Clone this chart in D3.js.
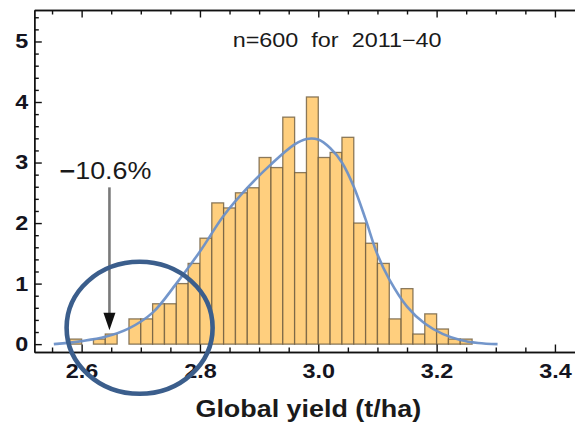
<!DOCTYPE html>
<html lang="en">
<head>
    <meta charset="UTF-8">
    <title>Global yield histogram</title>
    <script src="https://cdnjs.cloudflare.com/ajax/libs/d3/7.8.5/d3.min.js"></script>
    <style>
        body {
            margin: 0;
            background-color: #ffffff;
            font-family: "Liberation Sans", Arial, sans-serif;
        }
        svg { display: block; }
    </style>
</head>
<body>
    <div id="plot"></div>

    <script>
        // Sample size and bin width (from the title / bar widths)
        const n = 600;
        const binWidth = 0.02;

        // Histogram bins: left edge of each bin and counts
        const binStart = [2.58, 2.60, 2.62, 2.64, 2.66, 2.68, 2.70, 2.72, 2.74, 2.76,
                          2.78, 2.80, 2.82, 2.84, 2.86, 2.88, 2.90, 2.92, 2.94, 2.96,
                          2.98, 3.00, 3.02, 3.04, 3.06, 3.08, 3.10, 3.12, 3.14, 3.16,
                          3.18, 3.20, 3.22, 3.24];
        const binCount = [1, 0, 1, 2, 0, 5, 5, 8, 8, 12,
                          16, 21, 28, 27, 30, 31, 37, 35, 45, 34,
                          49, 37, 38, 41, 24, 20, 16, 5, 11, 2,
                          6, 3, 1, 1];

        // Smoothed density curve
        const curveX = [2.553, 2.60, 2.64, 2.68, 2.72, 2.76, 2.80, 2.84, 2.88, 2.92,
                        2.96, 2.98, 3.00, 3.02, 3.04, 3.06, 3.08, 3.10, 3.12, 3.15,
                        3.18, 3.21, 3.24, 3.27, 3.303];
        const curveY = [0.0, 0.05, 0.12, 0.26, 0.52, 1.0, 1.53, 2.12, 2.58, 2.97,
                        3.30, 3.39, 3.38, 3.24, 3.0, 2.6, 2.06, 1.48, 1.07, 0.62,
                        0.34, 0.17, 0.07, 0.02, 0.0];

        // Axis ticks
        const xMajor = [2.6, 2.8, 3.0, 3.2, 3.4];
        const yMajor = [0, 1, 2, 3, 4, 5];

        // Annotation: arrow and highlighted region
        const arrow = {x: 2.647, yTop: 2.59, yTip: 0.23, label: "10.6%"};
        const ring = {cx: 2.698, cy: 0.27, rx: 0.1234, ry: 1.09};

        const title = "n=600  for  2011\u221240";
        const xTitle = "Global yield (t/ha)";

        const W = 575, H = 424;
        const stretch = 1.17;   // text in the original is a bit wide

        const svg = d3.select("#plot")
            .append("svg")
                .attr("width", W)
                .attr("height", H);

        const x = d3.scaleLinear()
            .domain([2.52, 3.44])
            .range([34.3, 578.6]);

        const y = d3.scaleLinear()
            .domain([-0.13, 5.52])
            .range([352, 10]);

        const xMinor = d3.range(2.55, 3.4001, 0.05).filter(v => Math.abs(v / 0.2 - Math.round(v / 0.2)) > 1e-6);
        const yMinor = d3.range(0.2, 5.41, 0.2).filter(v => Math.abs(v - Math.round(v)) > 1e-6);

        // Bars
        const bars = binStart.map((b, i) => ({x0: b, x1: b + binWidth, h: binCount[i] / (n * binWidth)}))
            .filter(d => d.h > 0);

        svg.append("g")
            .selectAll("rect")
            .data(bars)
            .join("rect")
                .attr("x", d => x(d.x0))
                .attr("y", d => y(d.h))
                .attr("width", d => x(d.x1) - x(d.x0))
                .attr("height", d => y(0) - y(d.h))
                .attr("fill", "#ffcf7e")
                .attr("stroke", "#6e5c40")
                .attr("stroke-opacity", 0.8)
                .attr("stroke-width", 1.3);

        // Density curve
        const line = d3.line()
            .x(d => x(d[0]))
            .y(d => y(d[1]))
            .curve(d3.curveCatmullRom.alpha(0.5));

        svg.append("path")
            .datum(curveX.map((v, i) => [v, curveY[i]]))
            .attr("fill", "none")
            .attr("stroke", "#6b90c8")
            .attr("stroke-opacity", 0.95)
            .attr("stroke-width", 2.6)
            .attr("d", line);

        // Frame: bottom, top, left
        function frameAxis(axis, transform, values, size) {
            svg.append("g")
                .attr("transform", transform)
                .call(axis.tickValues(values).tickSize(size).tickSizeOuter(0).tickFormat(""));
        }
        frameAxis(d3.axisBottom(x), `translate(0,${y.range()[0]})`, xMinor, -4.5);
        frameAxis(d3.axisTop(x), `translate(0,${y.range()[1]})`, xMinor, -4.5);
        frameAxis(d3.axisLeft(y), `translate(${x.range()[0]},0)`, yMinor, -4.5);

        const xAxis = svg.append("g")
            .attr("transform", `translate(0,${y.range()[0]})`)
            .call(d3.axisBottom(x).tickValues(xMajor).tickSize(-7.5).tickSizeOuter(0)
                .tickPadding(12).tickFormat(d3.format(".1f")));

        svg.append("g")
            .attr("transform", `translate(0,${y.range()[1]})`)
            .call(d3.axisTop(x).tickValues(xMajor).tickSize(-7.5).tickSizeOuter(0).tickFormat(""));

        const yAxis = svg.append("g")
            .attr("transform", `translate(${x.range()[0]},0)`)
            .call(d3.axisLeft(y).tickValues(yMajor).tickSize(-7.5).tickSizeOuter(0)
                .tickPadding(6).tickFormat(d3.format("d")));

        svg.selectAll(".domain, .tick line")
            .attr("stroke", "#111")
            .attr("stroke-width", 1.4);

        [xAxis, yAxis].forEach(g => g.selectAll("text")
            .attr("font-family", "'Liberation Sans', Arial, sans-serif")
            .attr("font-size", 20)
            .attr("font-weight", "bold")
            .attr("fill", "#141420")
            .attr("transform", `scale(${stretch},1)`));
        yAxis.selectAll("text").attr("x", -6 / stretch);

        // helper for stretched text
        function label(txt, px, py, size, weight, anchor) {
            return svg.append("text")
                .attr("transform", `translate(${px},${py}) scale(${stretch},1)`)
                .attr("text-anchor", anchor)
                .attr("font-size", size)
                .attr("font-weight", weight)
                .attr("fill", "#1a1a1a")
                .style("white-space", "pre")
                .text(txt);
        }

        label(title, 232.7, 47.3, 20, "normal", "start");
        label(xTitle, (x(2.8) + x(3.2)) / 2 - 10, 416.5, 23, "bold", "middle");

        // Annotation arrow
        const ax = x(arrow.x);
        svg.append("line")
            .attr("x1", ax).attr("x2", ax)
            .attr("y1", y(arrow.yTop)).attr("y2", y(arrow.yTip) - 14)
            .attr("stroke", "#7a7a7a")
            .attr("stroke-width", 2.6);
        svg.append("path")
            .attr("d", `M${ax - 6},${y(arrow.yTip) - 17.5}L${ax + 6},${y(arrow.yTip) - 17.5}L${ax},${y(arrow.yTip)}Z`)
            .attr("fill", "#111");

        const lab = label("", 59.5, 179.3, 23, "normal", "start");
        lab.append("tspan").attr("font-weight", "bold").text("\u2212");
        lab.append("tspan").text(arrow.label);

        // Highlight ring
        svg.append("ellipse")
            .attr("cx", x(ring.cx))
            .attr("cy", y(ring.cy))
            .attr("rx", x(ring.cx + ring.rx) - x(ring.cx))
            .attr("ry", y(0) - y(ring.ry))
            .attr("fill", "none")
            .attr("stroke", "#3b5e8c")
            .attr("stroke-width", 4.6);
    </script>
</body>
</html>
